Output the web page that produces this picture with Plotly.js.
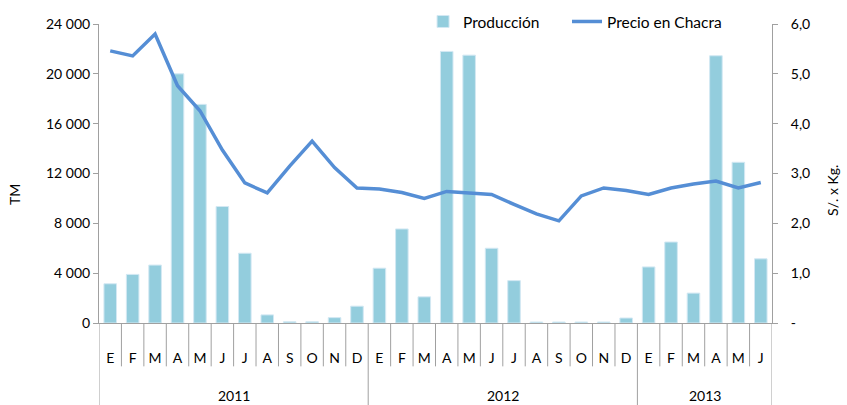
<!DOCTYPE html>
<html>
<head>
<meta charset="utf-8">
<script src="https://cdn.plot.ly/plotly-3.0.1.min.js"></script>
<style>html,body{margin:0;padding:0;background:#fff}#chart{width:847px;height:405px}</style>
</head>
<body>
<div id="chart"></div>
<script>
const months = ['E','F','M','A','M','J','J','A','S','O','N','D',
                'E','F','M','A','M','J','J','A','S','O','N','D',
                'E','F','M','A','M','J'];
const years = ['2011','2011','2011','2011','2011','2011','2011','2011','2011','2011','2011','2011',
               '2012','2012','2012','2012','2012','2012','2012','2012','2012','2012','2012','2012',
               '2013','2013','2013','2013','2013','2013'];
const produccion = [3150, 3900, 4650, 20000, 17550, 9350, 5600, 650, 100, 100, 430, 1350,
                    4400, 7550, 2100, 21800, 21500, 6000, 3400, 80, 80, 80, 80, 400,
                    4500, 6500, 2400, 21450, 12900, 5150];
const precio = [5.46, 5.36, 5.80, 4.76, 4.26, 3.47, 2.81, 2.61, 3.15, 3.65, 3.12, 2.71,
                2.69, 2.62, 2.50, 2.64, 2.61, 2.58, 2.38, 2.19, 2.05, 2.55, 2.71, 2.66,
                2.58, 2.71, 2.79, 2.85, 2.71, 2.82];
const leftTickVals = [0, 4000, 8000, 12000, 16000, 20000, 24000];
const leftTickText = ['0', '4 000', '8 000', '12 000', '16 000', '20 000', '24 000'];
const rightTickVals = [0, 1, 2, 3, 4, 5, 6];
const rightTickText = ['-', '1,0', '2,0', '3,0', '4,0', '5,0', '6,0'];
const leftTitle = 'TM';
const rightTitle = 'S/. x Kg.';

const idx = months.map((m, i) => i);
const font = 'Lato, "Open Sans", sans-serif';
const gridGray = '#a0a0a0';

// year groups
const yearNames = [...new Set(years)];
const groups = yearNames.map(y => {
  const first = years.indexOf(y), last = years.lastIndexOf(y);
  return {y, first, last};
});

const shapes = [];
// month dividers (short)
for (let i = 0; i < months.length - 1; i++) {
  if (years[i] !== years[i + 1]) continue;
  shapes.push({type: 'line', xref: 'x', yref: 'paper', x0: i + 0.5, x1: i + 0.5, y0: 0, y1: -0.145,
               line: {color: gridGray, width: 1}});
}
// year dividers (long)
const bounds = [-0.5].concat(groups.map(g => g.last + 0.5));
bounds.forEach(b => {
  shapes.push({type: 'line', xref: 'x', yref: 'paper', x0: b, x1: b, y0: 0, y1: -0.28,
               line: {color: gridGray, width: 1}});
});

const annotations = groups.map(g => ({
  xref: 'x', yref: 'paper', x: (g.first + g.last) / 2, y: -0.243, text: g.y,
  showarrow: false, yanchor: 'middle', font: {family: font, size: 14, color: '#000'}
}));
annotations.push({xref: 'paper', yref: 'paper', x: -0.1263, y: 0.428, text: leftTitle,
  textangle: -90, showarrow: false, xanchor: 'center', yanchor: 'middle',
  font: {family: font, size: 14, color: '#000'}});
annotations.push({xref: 'paper', yref: 'paper', x: 1.0906, y: 0.445, text: rightTitle,
  textangle: -90, showarrow: false, xanchor: 'center', yanchor: 'middle',
  font: {family: font, size: 14, color: '#000'}});

const traces = [
  {type: 'bar', name: 'Producción', x: idx, y: produccion, width: 0.56, legend: 'legend',
   marker: {color: '#93cddd', line: {color: '#d3e8f3', width: 1}}},
  {type: 'scatter', mode: 'lines', name: 'Precio en Chacra', x: idx, y: precio, yaxis: 'y2',
   legend: 'legend2', line: {color: '#558ed5', width: 3.5}}
];

const legendBase = {orientation: 'h', xanchor: 'left', y: 1.007, yanchor: 'middle',
  font: {family: font, size: 15.5}, bgcolor: 'rgba(0,0,0,0)'};

const layout = {
  width: 847, height: 405,
  margin: {l: 99, r: 75, t: 24, b: 82, autoexpand: false},
  paper_bgcolor: '#fff', plot_bgcolor: '#fff',
  font: {family: font, size: 14, color: '#000'},
  showlegend: true,
  legend: Object.assign({}, legendBase, {x: 0.4815}),
  legend2: Object.assign({}, legendBase, {x: 0.6954}),
  xaxis: {range: [-0.5, months.length - 0.5], tickvals: idx, ticktext: months, ticks: '',
          showgrid: false, zeroline: false, showline: true, linecolor: gridGray, linewidth: 1,
          ticklabelstandoff: 22, tickfont: {family: font, size: 14}, fixedrange: true},
  yaxis: {range: [0, 24000], tickvals: leftTickVals, ticktext: leftTickText, ticks: 'outside',
          ticklen: 5, tickcolor: gridGray, showline: true, linecolor: gridGray, showgrid: false,
          zeroline: false, tickfont: {family: font, size: 14}},
  yaxis2: {range: [0, 6], overlaying: 'y', side: 'right', tickvals: rightTickVals,
           ticktext: rightTickText, ticks: 'outside', ticklen: 5, tickcolor: gridGray,
           showline: true, linecolor: gridGray, showgrid: false, zeroline: false,
           ticklabelstandoff: 10, tickfont: {family: font, size: 14}},
  shapes, annotations
};

Plotly.newPlot('chart', traces, layout, {displayModeBar: false, staticPlot: true});
</script>
</body>
</html>
